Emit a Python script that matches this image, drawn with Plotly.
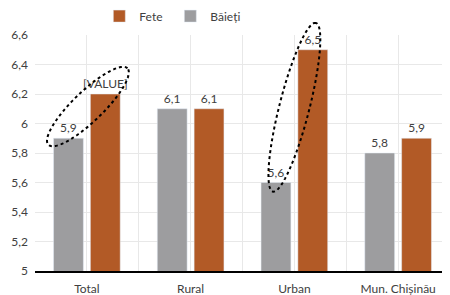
import numpy as np
import plotly.graph_objects as go

categories = ["Total", "Rural", "Urban", "Mun. Chișinău"]
baieti = [5.9, 6.1, 5.6, 5.8]
fete = [6.2, 6.1, 6.5, 5.9]
fete_labels = ["[VALUE]", "6,1", "6,5", "5,9"]
y_ticks = [5, 5.2, 5.4, 5.6, 5.8, 6, 6.2, 6.4, 6.6]

GRAY = "#9d9d9f"
ORANGE = "#b25a26"
TEXT = "#404040"
FONT = "Lato"

# the page body adds an 8px margin, so the figure is sized to fit the window
W, H = 442, 287
ML, MR, MT, MB = 27, 0, 27, 24
PW, PH = W - ML - MR, H - MT - MB
XR = (-0.5, 3.5)
YR = (5, 6.6)

x = list(range(len(categories)))

def fmt(v):
    return f"{v:.1f}".replace(".", ",")

fig = go.Figure()
fig.add_trace(go.Bar(
    x=x, y=baieti, name="Băieți", marker_color=GRAY,
    text=[fmt(v) for v in baieti], textposition="outside", constraintext="none",
    textfont=dict(color=TEXT, size=12, family=FONT), cliponaxis=False,
))
fig.add_trace(go.Bar(
    x=x, y=fete, name="Fete", marker_color=ORANGE,
    text=fete_labels, textposition="outside", constraintext="none",
    textfont=dict(color=TEXT, size=12, family=FONT), cliponaxis=False,
))

def ellipse_path(cx, cy, a_px, b_px, ang_deg, n=120):
    # centre in data units, semi-axes in pixels, angle counter-clockwise on screen
    px = (cx - XR[0]) / (XR[1] - XR[0]) * PW
    py = (cy - YR[0]) / (YR[1] - YR[0]) * PH
    t = np.linspace(0, 2 * np.pi, n)
    th = np.deg2rad(ang_deg)
    ex = px + a_px * np.cos(t) * np.cos(th) - b_px * np.sin(t) * np.sin(th)
    ey = py + a_px * np.cos(t) * np.sin(th) + b_px * np.sin(t) * np.cos(th)
    pts = [f"{xx / PW:.5f},{yy / PH:.5f}" for xx, yy in zip(ex, ey)]
    return "M" + " L".join(pts) + " Z"

for (cx, cy, a, b, ang) in [(0.01, 6.115, 55, 15, 44), (2.0, 6.11, 87, 15, 75.7)]:
    fig.add_shape(type="path", path=ellipse_path(cx, cy, a, b, ang),
                  xref="paper", yref="paper",
                  line=dict(color="black", width=2, dash="dot"), layer="above")

fig.update_layout(
    width=W, height=H,
    margin=dict(l=ML, r=MR, t=MT, b=MB, autoexpand=False),
    paper_bgcolor="white", plot_bgcolor="white",
    separators=", ",
    barmode="group", bargap=0.29, bargroupgap=0.19,
    font=dict(family=FONT, size=12, color=TEXT),
    legend=dict(orientation="h", x=0.155, xanchor="left", y=1.08, yanchor="middle",
                traceorder="reversed", entrywidth=26,
                font=dict(size=12, color=TEXT, family=FONT)),
    showlegend=True,
)
fig.update_xaxes(
    range=list(XR), tickmode="array", tickvals=x, ticktext=categories,
    showgrid=True, gridcolor="#e8e8e8", gridwidth=1,
    minor=dict(tickmode="array", tickvals=[-0.5, 0.5, 1.5, 2.5, 3.5], showgrid=True,
               gridcolor="#e8e8e8", gridwidth=1),
    showline=True, linecolor="black", linewidth=1.5,
    ticks="", ticklabelstandoff=6, zeroline=False,
    tickfont=dict(size=12, color=TEXT, family=FONT),
)
fig.update_yaxes(
    range=list(YR), tickmode="array", tickvals=y_ticks,
    showgrid=True, gridcolor="#e8e8e8", gridwidth=1,
    zeroline=False, ticks="", ticklabelstandoff=6,
    tickfont=dict(size=12, color=TEXT, family=FONT),
)

fig.write_html("out.html")
